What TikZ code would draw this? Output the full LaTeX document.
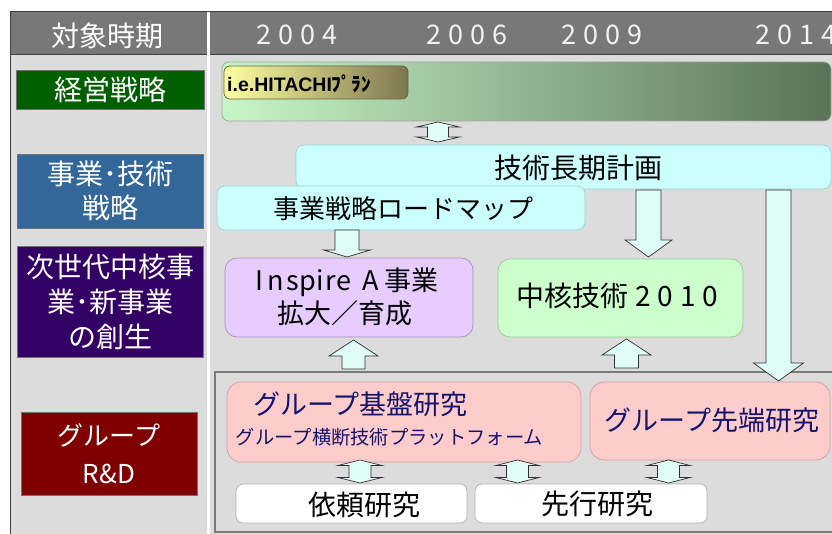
\documentclass[tikz,border=0pt]{standalone}
\usepackage{fontspec}
\setmainfont{Noto Sans CJK JP}
\newfontfamily\lib{Liberation Sans}
\definecolor{bggray}{HTML}{DCDCDC}
\definecolor{hdrgray}{HTML}{787878}
\definecolor{hdrline}{HTML}{404040}
\definecolor{kgreen}{HTML}{006000}
\definecolor{kblue}{HTML}{336699}
\definecolor{kpurple}{HTML}{330066}
\definecolor{kred}{HTML}{800000}
\definecolor{cyanbox}{HTML}{CCFFFF}
\definecolor{cyanedge}{HTML}{9FCFCF}
\definecolor{lavbox}{HTML}{E6CCFF}
\definecolor{lavedge}{HTML}{A890C0}
\definecolor{grnbox}{HTML}{CCFFCC}
\definecolor{grnedge}{HTML}{99C899}
\definecolor{pinkbox}{HTML}{FFCCCC}
\definecolor{pinkedge}{HTML}{D0A0A0}
\definecolor{whiteedge}{HTML}{B0B0B0}
\definecolor{navy}{HTML}{14146E}
\definecolor{arrfill}{HTML}{E0FCF6}
\definecolor{arrline}{HTML}{303030}
\definecolor{framegray}{HTML}{7A7A7A}
\definecolor{barL}{HTML}{C8F5C8}
\definecolor{barM}{HTML}{A2CA9E}
\definecolor{barR}{HTML}{5A7358}
\definecolor{hitL}{HTML}{FFFFA0}
\definecolor{hitR}{HTML}{7D7750}
\newcommand\dg[1]{\makebox[21.7pt]{#1}}
\newcommand\dgb[1]{\makebox[22.5pt]{#1}}
\newcommand\dnarr[6]{% cx, ytop, ytip, shaft half, head half, head length
  \draw[blk] ({#1-#4},#2) -- ({#1+#4},#2) -- ({#1+#4},{#3-#6}) -- ({#1+#5},{#3-#6}) -- (#1,#3) -- ({#1-#5},{#3-#6}) -- ({#1-#4},{#3-#6}) -- cycle;}
\newcommand\uparr[6]{% cx, ybottom, ytip, shaft half, head half, head length
  \draw[blk] ({#1-#4},#2) -- ({#1+#4},#2) -- ({#1+#4},{#3+#6}) -- ({#1+#5},{#3+#6}) -- (#1,#3) -- ({#1-#5},{#3+#6}) -- ({#1-#4},{#3+#6}) -- cycle;}
\newcommand\dblarr[6]{% cx, ytop, ybottom, shaft half, head half, head length
  \draw[blk] (#1,#2) -- ({#1+#5},{#2+#6}) -- ({#1+#4},{#2+#6}) -- ({#1+#4},{#3-#6}) -- ({#1+#5},{#3-#6}) -- (#1,#3) -- ({#1-#5},{#3-#6}) -- ({#1-#4},{#3-#6}) -- ({#1-#4},{#2+#6}) -- ({#1-#5},{#2+#6}) -- cycle;}
\tikzset{
  lbox/.style={inner sep=0pt, draw=black!55, line width=0.5pt, text=white, align=center},
  rbox/.style={inner sep=0pt, rounded corners=#1, line width=0.7pt},
  rbox/.default=10pt,
  wtxt/.style={text=white, inner sep=0pt, align=center},
  btxt/.style={text=black, inner sep=0pt, align=center},
  ntxt/.style={text=navy, inner sep=0pt, align=center},
  yrtxt/.style={text=white!95!black, inner sep=0pt, font=\fontsize{27}{30}\selectfont},
  blk/.style={fill=arrfill, draw=arrline, line width=0.7pt},
}
\begin{document}
\begin{tikzpicture}[x=1pt,y=-1pt]
\useasboundingbox (0,0) rectangle (832,534);
\clip (0,0) rectangle (832,534);
\fill[white] (0,0) rectangle (832,534);
\fill[bggray] (10,55) rectangle (840,540);
\filldraw[fill=hdrgray, draw=hdrline, line width=1pt] (10,12) rectangle (845,55);
\draw[hdrline, line width=1pt] (10,12) -- (10,540);
\fill[white] (206.5,12) rectangle (209.5,540);

% header texts
\node[wtxt, font=\fontsize{28}{34}\selectfont] (hdr) at (107.5,35.5) {対象時期};
\node[yrtxt] (y04) at (297,35) {\dg2\dg0\dg0\dg4};
\node[yrtxt] (y06) at (467,35) {\dg2\dg0\dg0\dg6};
\node[yrtxt] (y09) at (602,35) {\dg2\dg0\dg0\dg9};
\node[yrtxt] (y14) at (796,35) {\dg2\dg0\dg1\dg4};

% left column labels
\node[lbox, fill=kgreen, minimum width=188pt, minimum height=39pt, font=\fontsize{28}{34}\selectfont] (keiei) at (110,89.5) {経営戦略};
\node[lbox, fill=kblue, minimum width=186pt, minimum height=74pt, font=\fontsize{28}{34}\selectfont] (jigyo) at (110,191) {事業･技術\\戦略};
\node[lbox, fill=kpurple, minimum width=186pt, minimum height=111pt, font=\fontsize{28}{35}\selectfont] (jisedai) at (110,302) {次世代中核事\\業･新事業\\の創生};
\node[lbox, fill=kred, minimum width=176pt, minimum height=83pt, font=\fontsize{26}{38}\selectfont] (grp) at (109,454) {グループ\\R\&D};

% frame of group R&D
\draw[framegray, line width=2pt] (215,372) rectangle (850,532);

% strategy bar
\node[rbox=7pt, left color=barL, middle color=barM, right color=barR, draw=barR!60!white, minimum width=609pt, minimum height=59pt] (bar) at (526.5,91.5) {};
\node[rbox=6pt, left color=hitL, right color=hitR, draw=hitR!80!black, minimum width=184pt, minimum height=33pt] (hitachi) at (316,82.5) {};
\node[btxt, anchor=west, font=\fontsize{19.5}{22}\selectfont] (hitachi-t) at (227,84) {{\lib\bfseries i.e.HITACHI}{\bfseries ﾌﾟﾗﾝ}};

% plan boxes
\node[rbox=8pt, fill=cyanbox, draw=cyanedge, minimum width=535pt, minimum height=44pt] (tlp) at (563.5,167) {};
\node[btxt, font=\fontsize{28}{34}\selectfont] (tlp-t) at (578.5,167.5) {技術長期計画};
\node[rbox=8pt, fill=cyanbox, draw=cyanedge, minimum width=368pt, minimum height=44pt] (rmap) at (401,208) {};
\node[btxt, font=\fontsize{26}{32}\selectfont] (rmap-t) at (403,209) {事業戦略ロードマップ};

\node[rbox=12pt, fill=lavbox, draw=lavedge, minimum width=248pt, minimum height=79pt] (insp) at (349,297.5) {};
\node[btxt, font=\fontsize{27}{33}\selectfont] (insp-t) at (345,296.5) {\makebox[16pt]{I}\makebox[17pt]{n}\makebox[16pt]{s}\makebox[14pt]{p}\makebox[11pt]{i}\makebox[11pt]{r}\makebox[14pt]{e}\hspace{12pt}\makebox[16pt]{A}\hspace{6pt}事業\\拡大／育成};

\node[rbox=12pt, fill=grnbox, draw=grnedge, minimum width=245pt, minimum height=78pt] (chu) at (620.5,298) {};
\node[btxt, font=\fontsize{28}{34}\selectfont] (chu-t) at (619,296) {中核技術\hspace{4pt}\dgb2\dgb0\dgb1\dgb0};

% R&D boxes
\node[rbox=14pt, fill=pinkbox, draw=pinkedge, minimum width=354pt, minimum height=80pt] (kiban) at (404,422) {};
\node[ntxt, font=\fontsize{27}{33}\selectfont] (kiban-t) at (360.5,404) {グループ基盤研究};
\node[ntxt, font=\fontsize{19.3}{24}\selectfont] (kiban-s) at (389.5,437) {グループ横断技術プラットフォーム};
\node[rbox=14pt, fill=pinkbox, draw=pinkedge, minimum width=240pt, minimum height=78pt] (sentan) at (710,421) {};
\node[ntxt, font=\fontsize{27}{33}\selectfont] (sentan-t) at (712,420) {グループ先端研究};

\node[rbox=7pt, fill=white, draw=whiteedge, minimum width=231pt, minimum height=39pt] (irai) at (351.5,503.5) {};
\node[btxt, font=\fontsize{28}{34}\selectfont] (irai-t) at (364.5,505) {依頼研究};
\node[rbox=7pt, fill=white, draw=whiteedge, minimum width=232pt, minimum height=39pt] (senko) at (591,503.5) {};
\node[btxt, font=\fontsize{28}{34}\selectfont] (senko-t) at (597.5,504) {先行研究};

% block arrows
\dblarr{438}{122}{142}{10.5}{21.5}{5}
\dnarr{347}{230}{257}{12}{23.5}{7}
\dnarr{648.5}{190}{257}{12.5}{23.5}{17}
\dnarr{778.5}{190}{381}{12.5}{25}{18}
\uparr{353.5}{369}{340}{11.5}{24.5}{16}
\uparr{626.5}{368}{339}{12}{24.5}{16}
\dblarr{360}{460}{483}{11}{22}{5.5}
\dblarr{517.5}{460}{483}{11}{21.5}{5.5}
\dblarr{668.5}{460}{483}{11}{21.5}{5.5}
\end{tikzpicture}
\end{document}
